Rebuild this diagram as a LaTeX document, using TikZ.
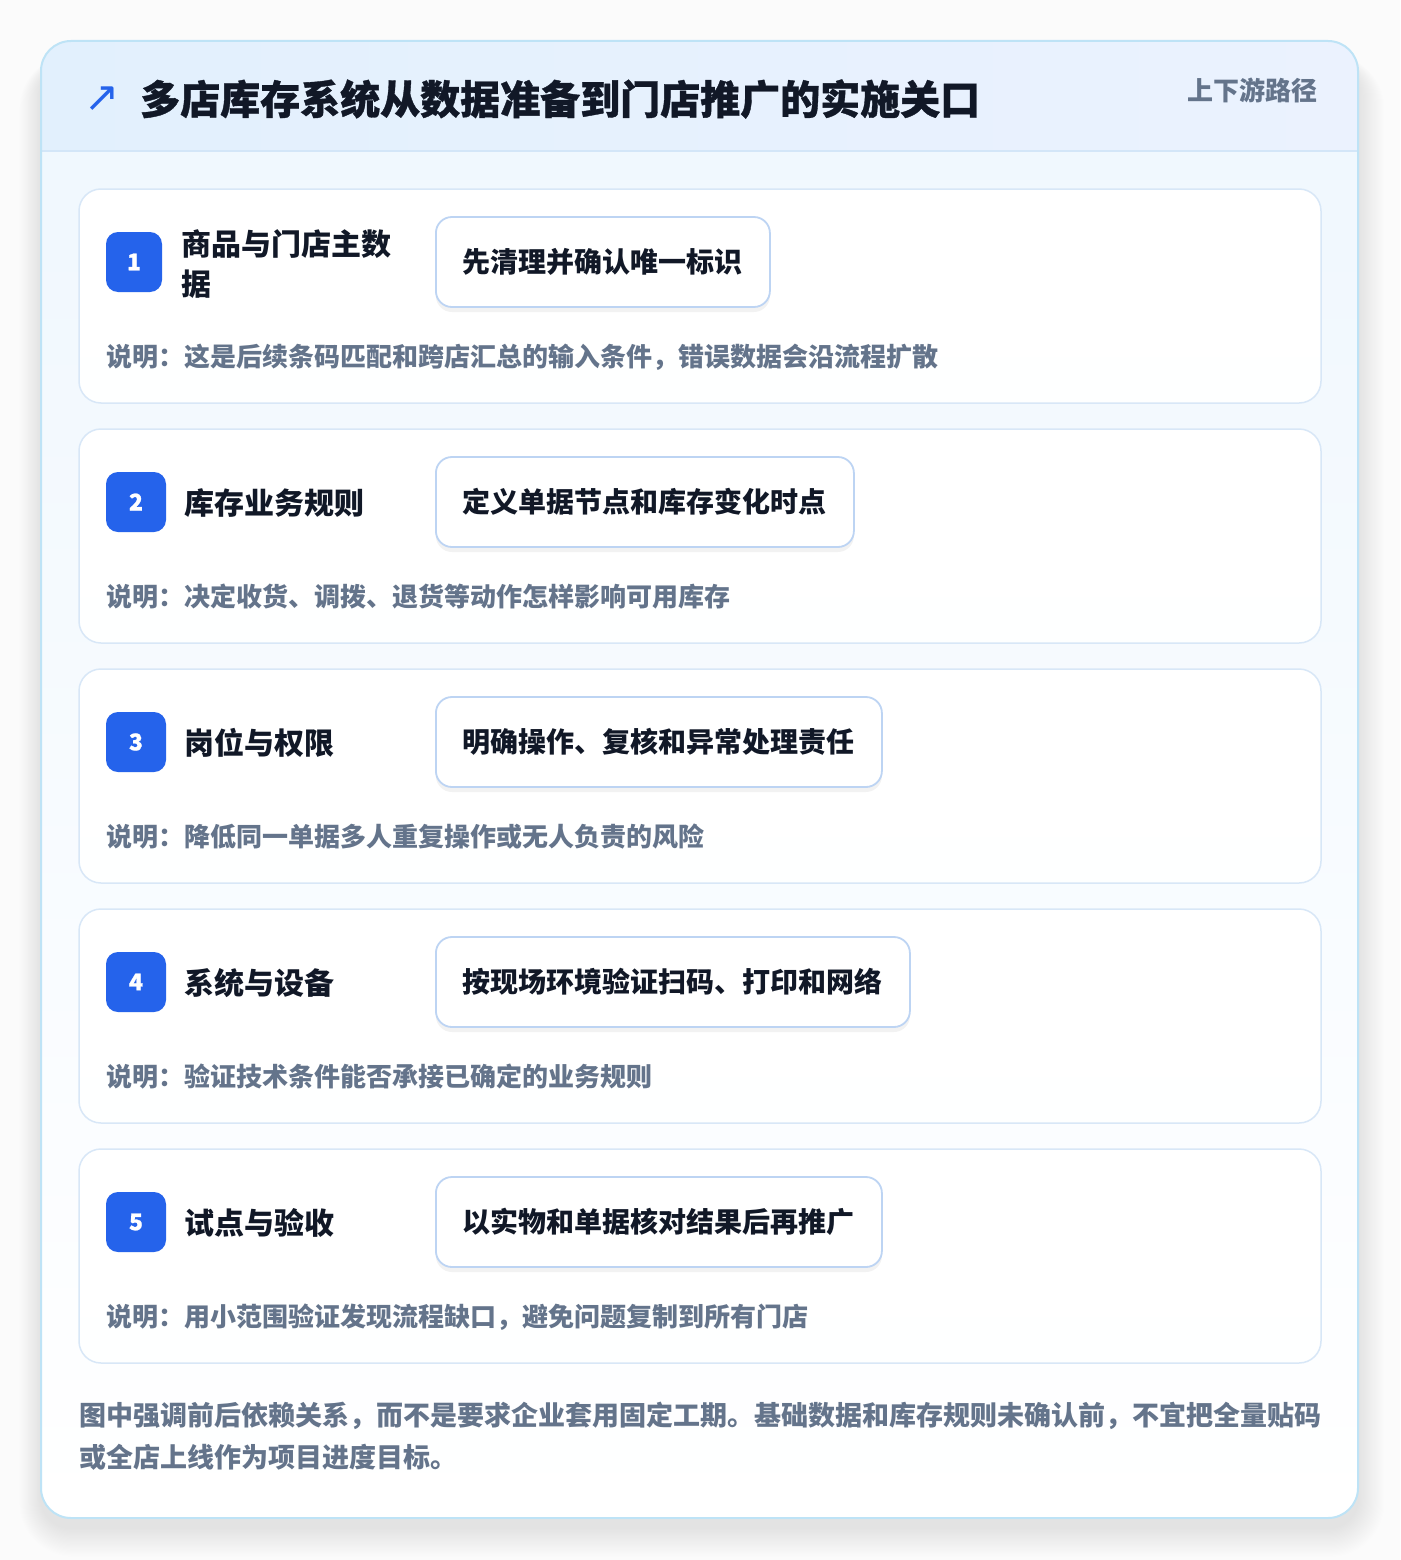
\documentclass[tikz,border=0pt]{standalone}
\usepackage{fontspec}
\setmainfont{Noto Sans CJK SC}
\newfontfamily\heavyfont{Noto Sans CJK SC}[BoldFeatures={FakeBold=0.9}]
\newfontfamily\symfont{DejaVu Sans}
\usetikzlibrary{shadows}
\definecolor{pagebg}{HTML}{FBFBFB}
\definecolor{outerborder}{HTML}{BEE3F6}
\definecolor{bodytop}{HTML}{EFF7FE}
\definecolor{hdrL}{HTML}{E2F0FD}
\definecolor{hdrR}{HTML}{EBF2FE}
\definecolor{hdrline}{HTML}{D3E6F8}
\definecolor{cardborder}{HTML}{D8E7F7}
\definecolor{boxborder}{HTML}{BDD4F3}
\definecolor{badgeblue}{HTML}{2563EB}
\definecolor{titleink}{HTML}{111827}
\definecolor{mutedink}{HTML}{64748B}
\tikzset{
  card/.style={draw=cardborder, line width=1.5pt, rounded corners=22pt,
    top color=white, bottom color=white!96!bodytop,
    minimum width=1242pt, minimum height=214pt, inner sep=0pt},
  badge/.style={fill=badgeblue, rounded corners=12pt, minimum height=60pt,
    inner sep=0pt, text=white, font=\heavyfont\bfseries\fontsize{23}{26}\selectfont},
  steptitle/.style={anchor=west, inner sep=0pt, text=titleink, align=left,
    font=\bfseries\fontsize{30}{40}\selectfont},
  gatebox/.style={draw=boxborder, line width=1.8pt, fill=white, rounded corners=16pt,
    minimum height=90pt, inner xsep=27pt, inner ysep=0pt, anchor=west,
    text=titleink, font=\bfseries\fontsize{28}{32}\selectfont,
    drop shadow={shadow xshift=0pt, shadow yshift=-5pt, opacity=0.05, fill=black}},
  desc/.style={anchor=west, inner sep=0pt, text=mutedink,
    font=\bfseries\fontsize{26}{30}\selectfont},
}
\begin{document}
\begin{tikzpicture}[x=1pt,y=-1pt]
\useasboundingbox (0,0) rectangle (1400,1560);
\fill[pagebg] (0,0) rectangle (1400,1560);
% soft shadow of the main panel
\foreach \i in {1,...,24} {
  \fill[black, opacity=0.005, rounded corners=30pt+\i pt]
    (41-0.9*\i, 62-0.3*\i) rectangle (1358+1.1*\i, 1528+1.2*\i);
}
% main panel
\shade[top color=bodytop, bottom color=white, rounded corners=30pt]
  (41,41) rectangle (1358,1518);
\begin{scope}
  \clip[rounded corners=30pt] (41,41) rectangle (1358,1518);
  \shade[left color=hdrL, right color=hdrR] (41,41) rectangle (1358,151);
\end{scope}
\draw[hdrline, line width=1.5pt] (41,151) -- (1358,151);
\draw[outerborder, line width=2pt, rounded corners=30pt] (41,41) rectangle (1358,1518);

% header
\node[inner sep=0pt, text=badgeblue, font=\symfont\fontsize{42}{46}\selectfont]
  (icon) at (102,99) {↗};
\node[anchor=west, inner sep=0pt, text=titleink, font=\heavyfont\bfseries\fontsize{40}{46}\selectfont]
  (title) at (140,99) {多店库存系统从数据准备到门店推广的实施关口};
\node[anchor=east, inner sep=0pt, text=mutedink, font=\bfseries\fontsize{26}{30}\selectfont]
  (tag) at (1318,90) {上下游路径};

% cards
\node[card] (c1) at (700,296) {};
\node[card] (c2) at (700,536) {};
\node[card] (c3) at (700,776) {};
\node[card] (c4) at (700,1016) {};
\node[card] (c5) at (700,1256) {};

% card 1
\node[badge, minimum width=56pt] (b1) at (134,262) {1};
\node[steptitle] (t1) at (181,264) {商品与门店主数\\据};
\node[gatebox] (g1) at (435,262) {先清理并确认唯一标识};
\node[desc] (d1) at (106,357) {说明：这是后续条码匹配和跨店汇总的输入条件，错误数据会沿流程扩散};

% card 2
\node[badge, minimum width=60pt] (b2) at (136,502) {2};
\node[steptitle] (t2) at (184,503) {库存业务规则};
\node[gatebox] (g2) at (435,502) {定义单据节点和库存变化时点};
\node[desc] (d2) at (106,597) {说明：决定收货、调拨、退货等动作怎样影响可用库存};

% card 3
\node[badge, minimum width=60pt] (b3) at (136,742) {3};
\node[steptitle] (t3) at (184,743) {岗位与权限};
\node[gatebox] (g3) at (435,742) {明确操作、复核和异常处理责任};
\node[desc] (d3) at (106,837) {说明：降低同一单据多人重复操作或无人负责的风险};

% card 4
\node[badge, minimum width=60pt] (b4) at (136,982) {4};
\node[steptitle] (t4) at (184,983) {系统与设备};
\node[gatebox] (g4) at (435,982) {按现场环境验证扫码、打印和网络};
\node[desc] (d4) at (106,1077) {说明：验证技术条件能否承接已确定的业务规则};

% card 5
\node[badge, minimum width=60pt] (b5) at (136,1222) {5};
\node[steptitle] (t5) at (184,1223) {试点与验收};
\node[gatebox] (g5) at (435,1222) {以实物和单据核对结果后再推广};
\node[desc] (d5) at (106,1317) {说明：用小范围验证发现流程缺口，避免问题复制到所有门店};

% footer
\node[anchor=west, inner sep=0pt, text=mutedink, align=left,
  font=\bfseries\fontsize{27}{42}\selectfont] (foot) at (79,1436)
  {图中强调前后依赖关系，而不是要求企业套用固定工期。基础数据和库存规则未确认前，不宜把全量贴码\\或全店上线作为项目进度目标。};
\end{tikzpicture}
\end{document}
